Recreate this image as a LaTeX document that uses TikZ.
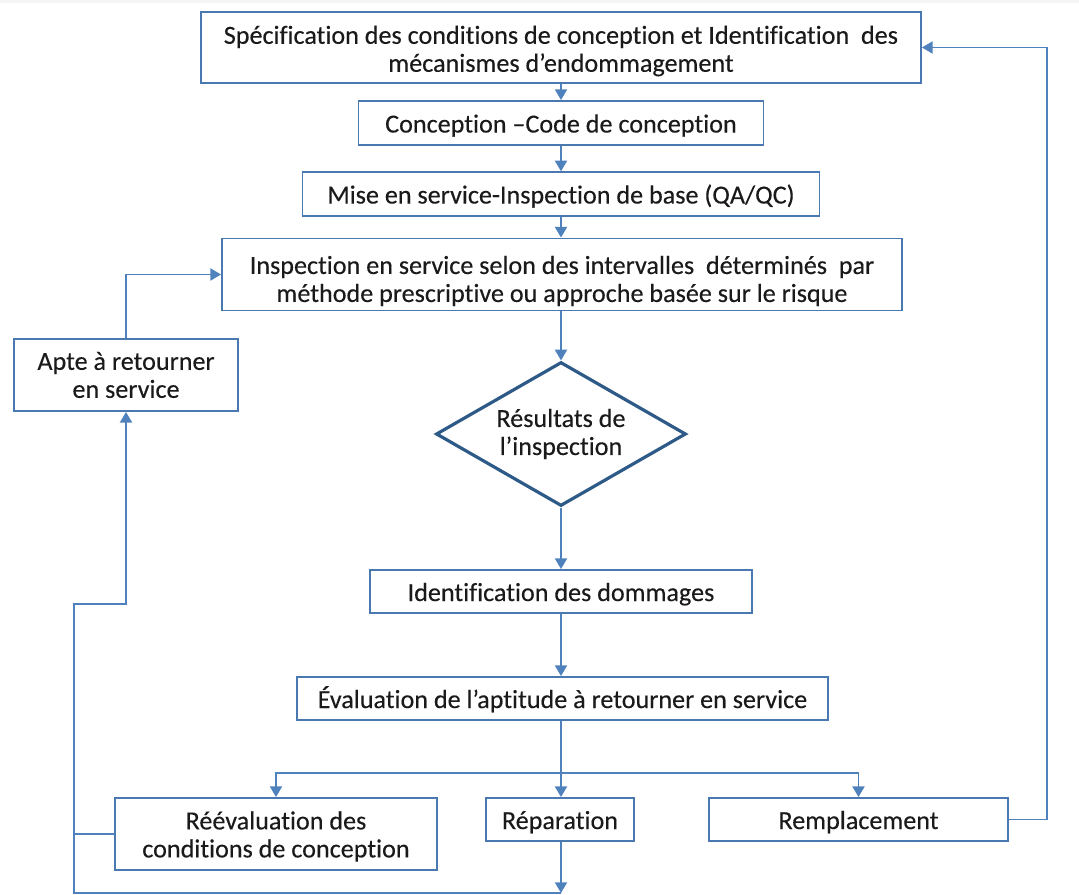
\documentclass[tikz,border=0pt]{standalone}
\usepackage{fontspec}
\setmainfont{Carlito}[Ligatures=NoCommon, FakeBold=0.25]
\usetikzlibrary{shapes.geometric,arrows.meta}
\definecolor{boxline}{HTML}{4A78B0}
\definecolor{wire}{HTML}{4F81BD}
\definecolor{decline}{HTML}{2E5A88}
\definecolor{inktext}{HTML}{1A1A1A}
% invisible strut that makes a first line taller, lowering a text block
\newcommand{\headroom}[1]{\rule{0pt}{#1}}
\begin{document}
\begin{tikzpicture}[x=0.75pt,y=-0.75pt,
  font=\fontsize{19.6}{21}\selectfont,
  box/.style={draw=boxline, line width=1.4pt, fill=white, inner sep=0pt,
    align=center, text=inktext},
  % taller single line, so that the text sits a little below the box centre
  sink/.style={execute at begin node={\rule[-0.2em]{0pt}{#1}}},
  sink/.default=1.13em,
  decision/.style={diamond, draw=decline, line width=2.4pt, fill=white,
    inner sep=0pt, shape aspect=1.74, align=center, text=inktext,
    minimum width=187.5pt, minimum height=108pt},
  conn/.style={draw=wire, line width=1.4pt},
  arr/.style={conn, -{Triangle[length=8pt,width=9pt]}},
]
\useasboundingbox (0,0) rectangle (1079,895);
\fill[gray!8] (0,0) rectangle (1079,3);

% main column
\node[box, minimum width=540pt, minimum height=53.25pt] (spec) at (561,47.5)
  {\headroom{0.96em}Spécification des conditions de conception et Identification \ des\\mécanismes d’endommagement};
\node[box, sink, minimum width=303.75pt, minimum height=33pt] (conc) at (561,123)
  {Conception –Code de conception};
\node[box, sink, minimum width=387.75pt, minimum height=32.6pt] (mise) at (561,194)
  {Mise en service-Inspection de base (QA/QC)};
\node[box, minimum width=510pt, minimum height=54pt] (insp) at (562,274.5)
  {\headroom{1.19em}Inspection en service selon des intervalles \ déterminés \ par\\méthode prescriptive ou approche basée sur le risque};
\node[decision] (res) at (561,434) {Résultats de\\l’inspection};
\node[box, sink, minimum width=286.5pt, minimum height=32.25pt] (ident) at (561,591.5)
  {Identification des dommages};
\node[box, sink, minimum width=398.25pt, minimum height=32.25pt] (eval) at (562.5,698.5)
  {Évaluation de l’aptitude à retourner en service};

% outcomes
\node[box, minimum width=241.5pt, minimum height=54pt] (reeval) at (276,834)
  {\headroom{0.88em}Réévaluation des\\conditions de conception};
\node[box, sink, minimum width=111pt, minimum height=32.25pt] (repar) at (560,819.5)
  {Réparation};
\node[box, sink, minimum width=224.25pt, minimum height=32.25pt] (rempl) at (858.5,819.5)
  {Remplacement};
\node[box, minimum width=168pt, minimum height=54pt] (apte) at (126,375)
  {Apte à retourner\\en service};

% routing points
\coordinate (split) at (561,773);
\coordinate (rightx) at (1047,0);
\coordinate (botR) at (561,893);
\coordinate (botL) at (74,893);
\coordinate (knee) at (74,604);

% downward flow
\draw[arr] (spec.south) -- (conc.north);
\draw[arr] (conc.south) -- (mise.north);
\draw[arr] (mise.south) -- (insp.north -| mise.south);
\draw[arr] (insp.south -| res.north) -- (res.north);
\draw[arr] (res.south) -- (ident.north);
\draw[arr] (ident.south) -- (ident.south |- eval.north);
\draw[conn] (eval.south -| split) -- (split);
\draw[arr] (split) -| (reeval.north);
\draw[arr] (split) -- (split |- repar.north);
\draw[arr] (split) -| (rempl.north);

% feedback loops
\draw[arr] (rempl.east) -- (rempl.east -| rightx) |- (spec.east);
\draw[arr] (repar.south -| botR) -- (botR);
\draw[arr] (botR) -- (botL) -- (knee) -| (apte.south);
\draw[conn] (reeval.west) -- (reeval.west -| knee);
\draw[arr] (apte.north) |- (insp.west);
\end{tikzpicture}
\end{document}
